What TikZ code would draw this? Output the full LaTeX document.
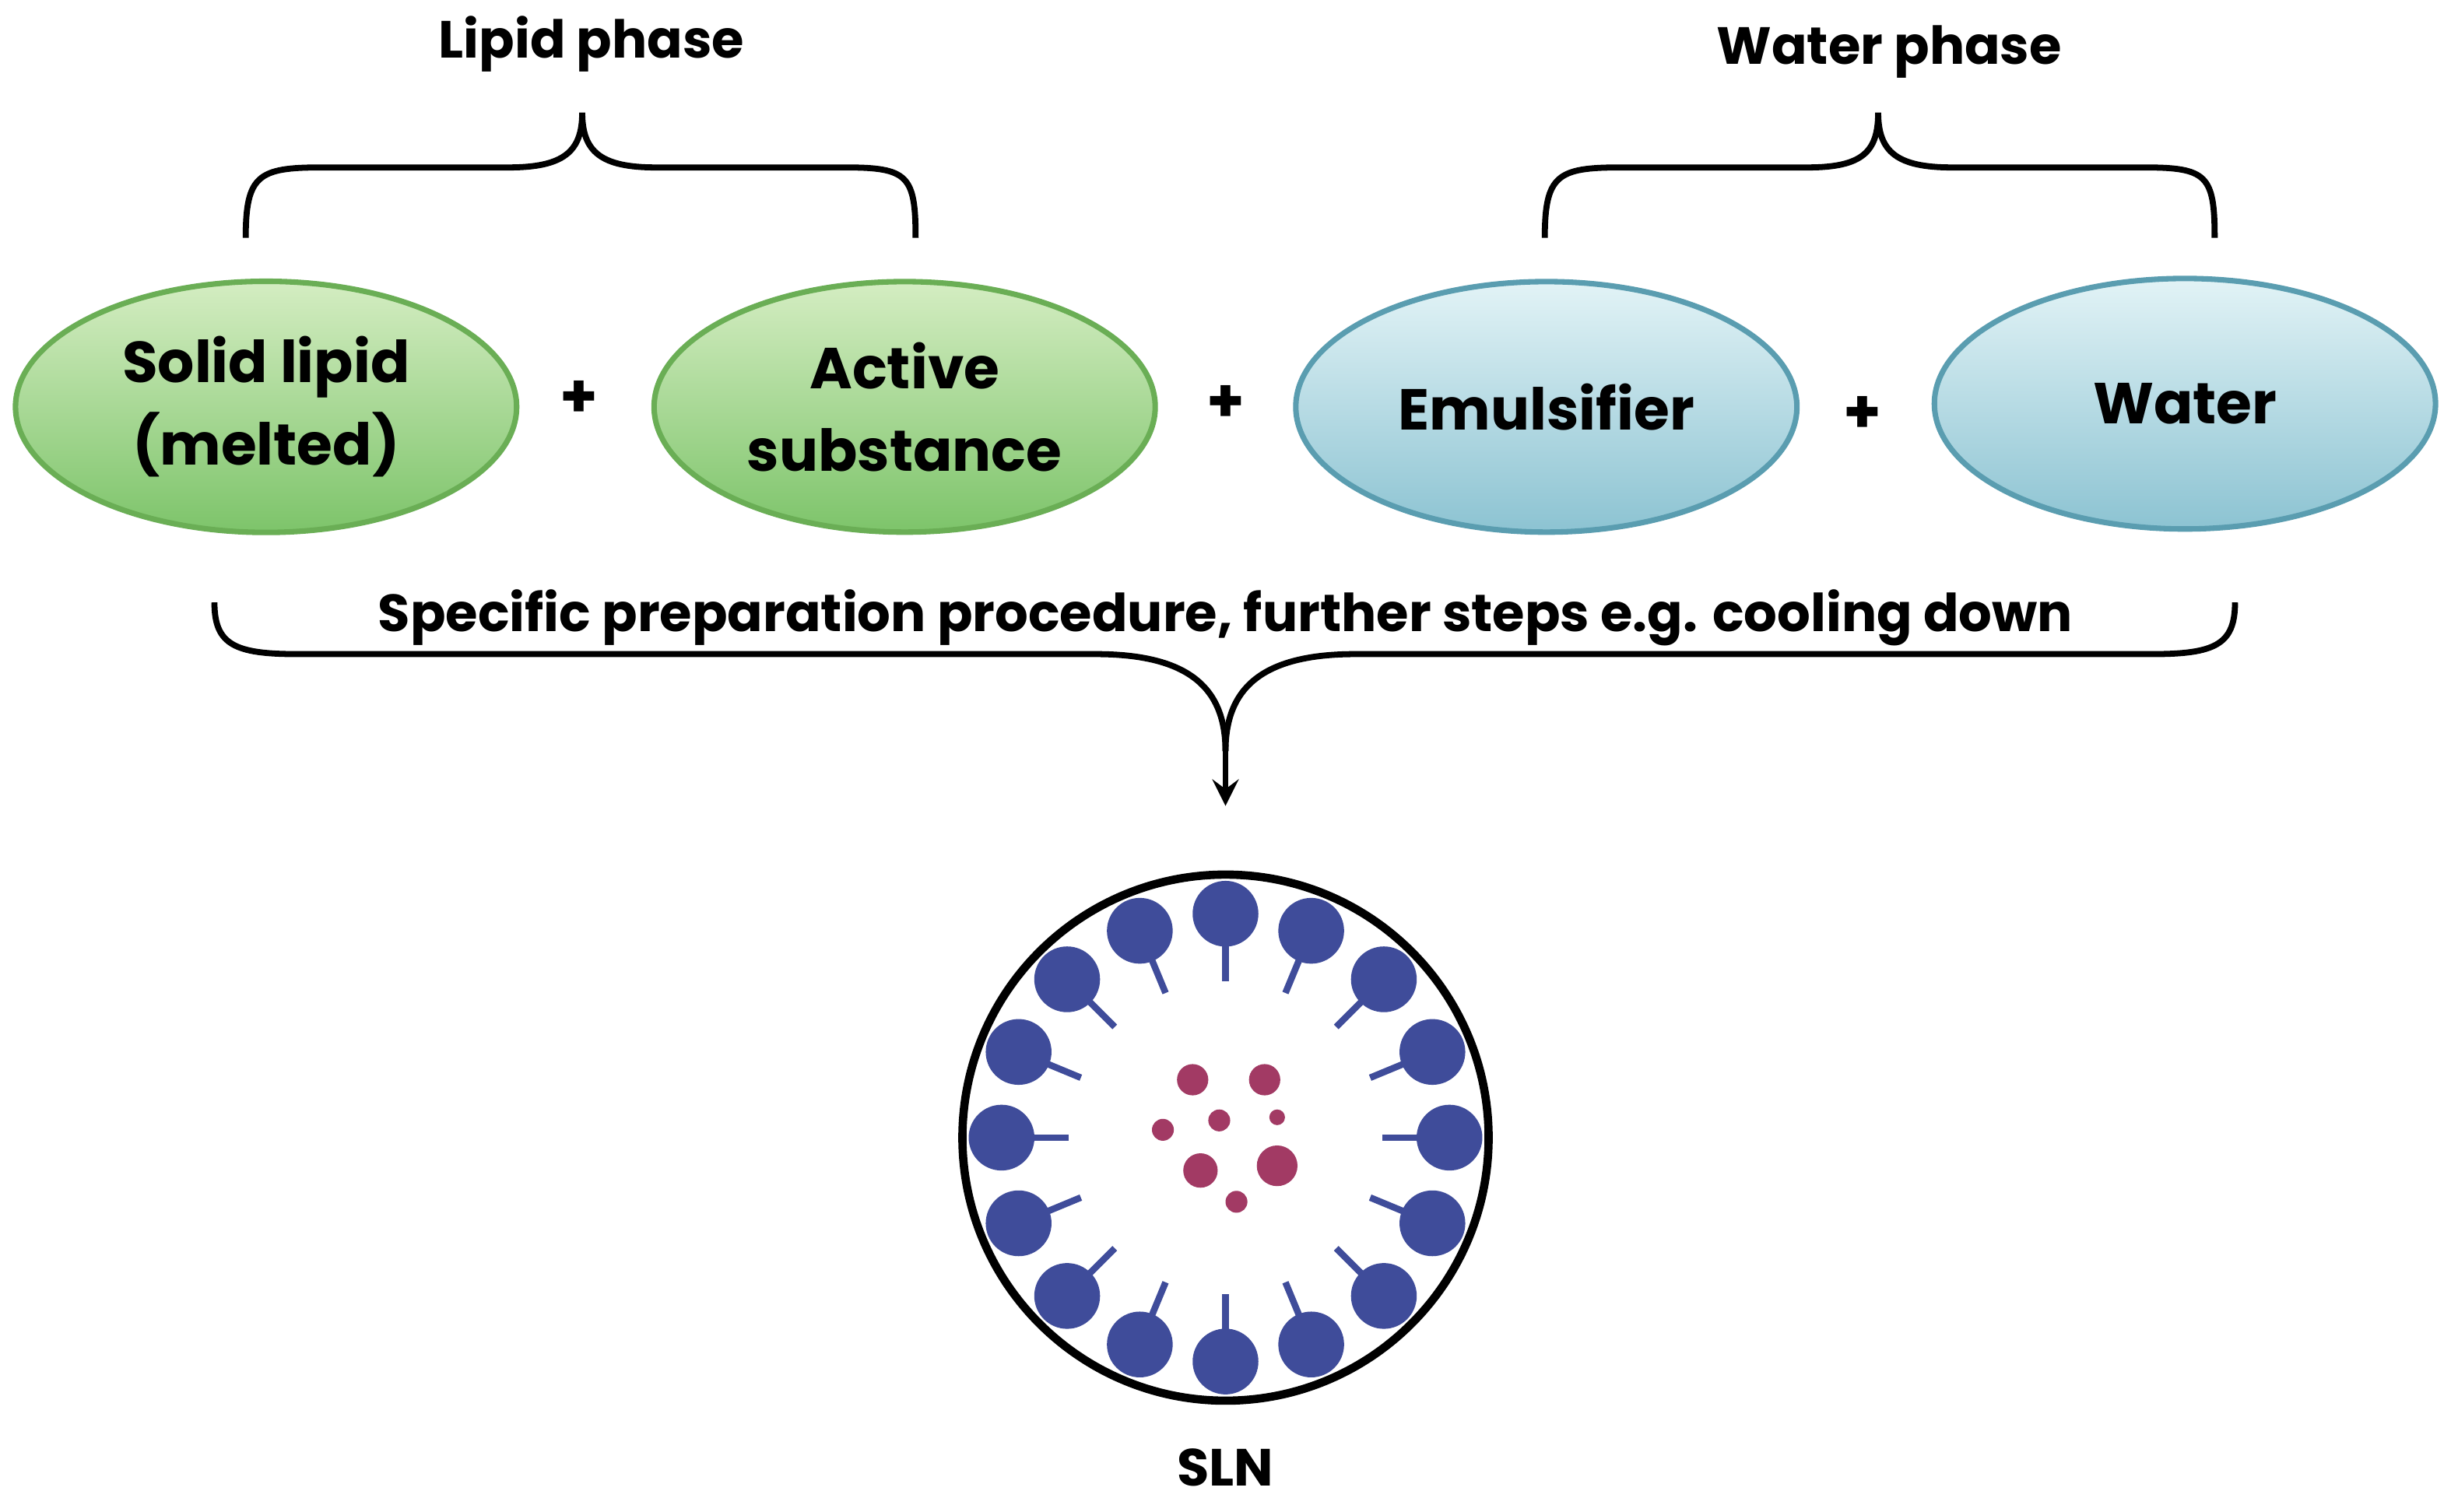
\documentclass[tikz,border=0pt]{standalone}
\usepackage{fontspec}
\setmainfont{Poppins}
\usetikzlibrary{positioning, calc, shapes.geometric}
\definecolor{lipidTop}{HTML}{D4EDC2}
\definecolor{lipidBot}{HTML}{7DC46A}
\definecolor{lipidLine}{HTML}{6AAE55}
\definecolor{waterTop}{HTML}{E2F3F6}
\definecolor{waterBot}{HTML}{8CC3D2}
\definecolor{waterLine}{HTML}{5A9DB0}
\definecolor{headBlue}{HTML}{3F4C9A}
\definecolor{dotRed}{HTML}{A23A64}
\begin{document}
\begin{tikzpicture}[x=0.01cm, y=-0.01cm,
        lipid/.style={ellipse, minimum width=3.2cm, minimum height=1.6cm, align=center,
            top color=lipidTop, bottom color=lipidBot, draw=lipidLine, line width=1pt,
            font=\fontsize{10.5}{15}\selectfont\bfseries},
        water/.style={lipid, top color=waterTop, bottom color=waterBot, draw=waterLine},
        plus/.style={font=\fontsize{11}{13}\selectfont\bfseries},
        phase/.style={font=\fontsize{9.5}{12}\selectfont\bfseries},
        brace/.style={line width=1.1pt},
        head/.style={circle, fill=headBlue, inner sep=0pt, minimum size=0.42cm},
        tail/.style={headBlue, line width=1.2pt}
    ]
    \useasboundingbox (0,0) rectangle (1566,966);

    % Components
    \node[lipid] (solid) at (170,260) {Solid lipid\\(melted)};
    \node[lipid] (active) at (578,260) {Active\\substance};
    \node[water] (emul) at (988,260) {Emulsifier};
    \node[water] (water) at (1396,258) {Water};
    \node[plus] (p1) at (370,255) {+};
    \node[plus] (p2) at (783,258) {+};
    \node[plus] (p3) at (1190,265) {+};

    % Phase braces
    \node[phase] (lipidlbl) at (378,28) {Lipid phase};
    \node[phase] (waterlbl) at (1207,33) {Water phase};
    \draw[brace] (157,152) .. controls (157,112) and (165,107) .. (205,107) -- (325,107)
        .. controls (360,107) and (372,97) .. (372,72)
        .. controls (372,97) and (384,107) .. (419,107) -- (540,107)
        .. controls (580,107) and (585,112) .. (585,152);
    \draw[brace] (987,152) .. controls (987,112) and (995,107) .. (1035,107) -- (1155,107)
        .. controls (1190,107) and (1200,97) .. (1200,72)
        .. controls (1200,97) and (1212,107) .. (1247,107) -- (1370,107)
        .. controls (1410,107) and (1415,112) .. (1415,152);

    % Procedure brace
    \node[phase] (proc) at (783,395) {Specific preparation procedure, further steps e.g. cooling down};
    \coordinate (tip) at (783,515);
    \draw[brace] (137,385) .. controls (137,412) and (150,418) .. (190,418) -- (700,418)
        .. controls (760,418) and (783,440) .. (783,480);
    \draw[brace] (1428,385) .. controls (1428,412) and (1415,418) .. (1375,418) -- (866,418)
        .. controls (806,418) and (783,440) .. (783,480);
    \draw[brace, ->, >=stealth] (783,478) -- (tip);

    % Nanoparticle
    \node[circle, draw, line width=1.5pt, minimum size=3.36cm, inner sep=0pt] (sln) at (783,727) {};
    \foreach \a in {0,22.5,...,337.5} {
        \draw[tail] ($(sln.center)+(\a:1.43cm)$) -- ($(sln.center)+(\a:1.0cm)$);
        \node[head] at ($(sln.center)+(\a:1.43cm)$) {};
    }
    \foreach \x/\y/\r in {762/690/10, 808/690/10, 743/722/7, 779/716/7, 816/714/5,
                          767/748/11, 816/745/13, 790/768/7} {
        \fill[dotRed] (\x,\y) circle (\r*0.01cm);
    }
    \node[phase] (slnlbl) at (783,938) {SLN};
\end{tikzpicture}
\end{document}
